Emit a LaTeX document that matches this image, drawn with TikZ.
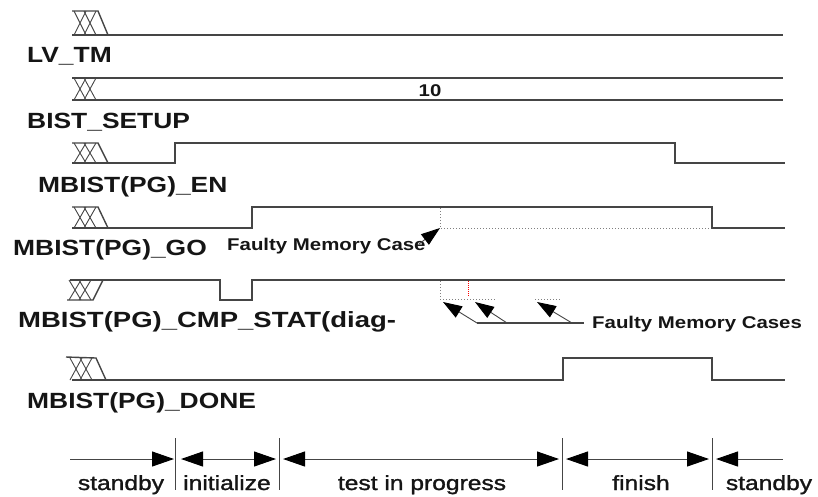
\documentclass[tikz,border=0pt]{standalone}
\usepackage{fontspec}
\setmainfont{Liberation Sans}
\newfontfamily\phasefont[FakeBold=1.2]{Liberation Sans}
\usetikzlibrary{arrows.meta}
\definecolor{wave}{HTML}{454545}
\definecolor{txt}{HTML}{151515}
\newcommand{\sx}[1]{\scalebox{1.2}[1]{#1}}
\newcommand{\myhatch}[3]{%
  \draw[hatchl] (#1+2,#2)--(#1+14,#3) (#1+14,#2)--(#1+2,#3)
                (#1+12,#2)--(#1+24,#3) (#1+24,#2)--(#1+12,#3);}
\begin{document}
\begin{tikzpicture}[x=1pt,y=-1pt,
  wavel/.style={draw=wave, line width=1.4pt, line join=miter},
  hatchl/.style={draw=wave, line width=0.9pt},
  dots/.style={draw=gray, line width=1pt, dash pattern=on 1pt off 2pt},
  reddots/.style={draw=red, line width=0.8pt, dash pattern=on 1pt off 1pt},
  sig/.style={inner sep=0pt, anchor=base west, text=txt, font=\bfseries\fontsize{22}{24}\selectfont},
  note/.style={inner sep=0pt, anchor=base west, text=txt, font=\bfseries\fontsize{17}{19}\selectfont},
  phase/.style={inner sep=0pt, anchor=base, text=txt, font=\phasefont\fontsize{20.5}{22}\selectfont},
  bighead/.style={-{Triangle[length=19pt,width=13pt,color=black]}, draw=wave, line width=0.9pt},
  phasearrow/.style={draw=wave, line width=1pt},
  tickl/.style={draw=wave, line width=1pt}
]
\useasboundingbox (0,0) rectangle (818,496);

% ---------------- LV_TM
\myhatch{72}{11}{35}
\draw[wavel] (72,11)--(98,11)--(108,35);
\draw[wavel] (72,35)--(783,35);
\node[sig] (lvtm) at (27,62) {\sx{LV\_TM}};

% ---------------- BIST_SETUP
\myhatch{72}{78}{100}
\draw[wavel] (72,78)--(783,78);
\draw[wavel] (72,100)--(783,100);
\node[inner sep=0pt, text=txt, font=\bfseries\fontsize{17}{19}\selectfont] (ten) at (430,91) {\sx{10}};
\node[sig] (bist) at (27,128) {\sx{BIST\_SETUP}};

% ---------------- MBIST(PG)_EN
\myhatch{72}{143}{163}
\draw[wavel] (72,143)--(98,143)--(108,163);
\draw[wavel] (72,163)--(175,163)--(175,143)--(675,143)--(675,163)--(785,163);
\node[sig] (en) at (38,192) {\sx{MBIST(PG)\_EN}};

% ---------------- MBIST(PG)_GO
\myhatch{72}{207}{228}
\draw[wavel] (72,207)--(98,207)--(108,228);
\draw[wavel] (72,228)--(252,228)--(252,207)--(712,207)--(712,228)--(785,228);
\draw[dots] (440,208)--(440,228)--(711,228);
\node[sig] (go) at (13,255) {\sx{MBIST(PG)\_GO}};
\node[note] (fmc) at (227,250) {\sx{Faulty Memory Case}};
\coordinate (gotip) at (440,228);
\coordinate (gotail) at (419,244);
\draw[bighead] (gotail) -- (gotip);

% ---------------- MBIST(PG)_CMP_STAT
\myhatch{67}{280}{300}
\draw[wavel] (67,300)--(93,300)--(103,280);
\draw[wavel] (70,280)--(220,280)--(220,300)--(252,300)--(252,280)--(785,280);
\draw[dots] (440,281)--(440,299)--(495,299);
\draw[dots] (535,299)--(560,299);
\draw[reddots] (468,281)--(468,297);
\node[sig] (cmp) at (18,327) {\scalebox{1.25}[1]{MBIST(PG)\_CMP\_STAT(diag-}};
\node[note] (fmcs) at (592,328) {\sx{Faulty Memory Cases}};
\coordinate (t1) at (477,323);
\coordinate (t2) at (507,323);
\coordinate (t3) at (572,323);
\coordinate (tend) at (584,323);
\coordinate (h1) at (443,302);
\coordinate (h2) at (475,302);
\coordinate (h3) at (537,302);
\draw[wave, line width=1.1pt] (t1) -- (tend);
\draw[bighead] (t1) -- (h1);
\draw[bighead] (t2) -- (h2);
\draw[bighead] (t3) -- (h3);

% ---------------- MBIST(PG)_DONE
\myhatch{68}{358}{380}
\draw[wavel] (66,357)--(96,358)--(106,380);
\draw[wavel] (72,380)--(563,380)--(563,358)--(712,358)--(712,380)--(785,380);
\node[sig] (done) at (27,408) {\sx{MBIST(PG)\_DONE}};

% ---------------- phases
\foreach \n/\x in {k1/175,k2/279,k3/562,k4/712}{
  \coordinate (\n top) at (\x,438);
  \coordinate (\n bot) at (\x,490);
  \draw[tickl] (\n top) -- (\n bot);
}
\coordinate (pstart) at (70,459);
\coordinate (pend) at (783,459);
\coordinate (a1) at (174,459);
\coordinate (a2) at (181,459);
\coordinate (a3) at (276,459);
\coordinate (a4) at (283,459);
\coordinate (a5) at (559,459);
\coordinate (a6) at (566,459);
\coordinate (a7) at (709,459);
\coordinate (a8) at (716,459);
\tikzset{ph/.tip={Triangle[length=22pt,width=15pt,color=black]}}
\draw[phasearrow,-ph] (pstart) -- (a1);
\draw[phasearrow,ph-ph] (a2) -- (a3);
\draw[phasearrow,ph-ph] (a4) -- (a5);
\draw[phasearrow,ph-ph] (a6) -- (a7);
\draw[phasearrow,ph-] (a8) -- (pend);

\node[phase] (p1) at (121,490) {\sx{standby}};
\node[phase] (p2) at (227,490) {\sx{initialize}};
\node[phase] (p3) at (422,490) {\sx{test in progress}};
\node[phase] (p4) at (641,490) {\sx{finish}};
\node[phase] (p5) at (769,490) {\sx{standby}};
\end{tikzpicture}
\end{document}
